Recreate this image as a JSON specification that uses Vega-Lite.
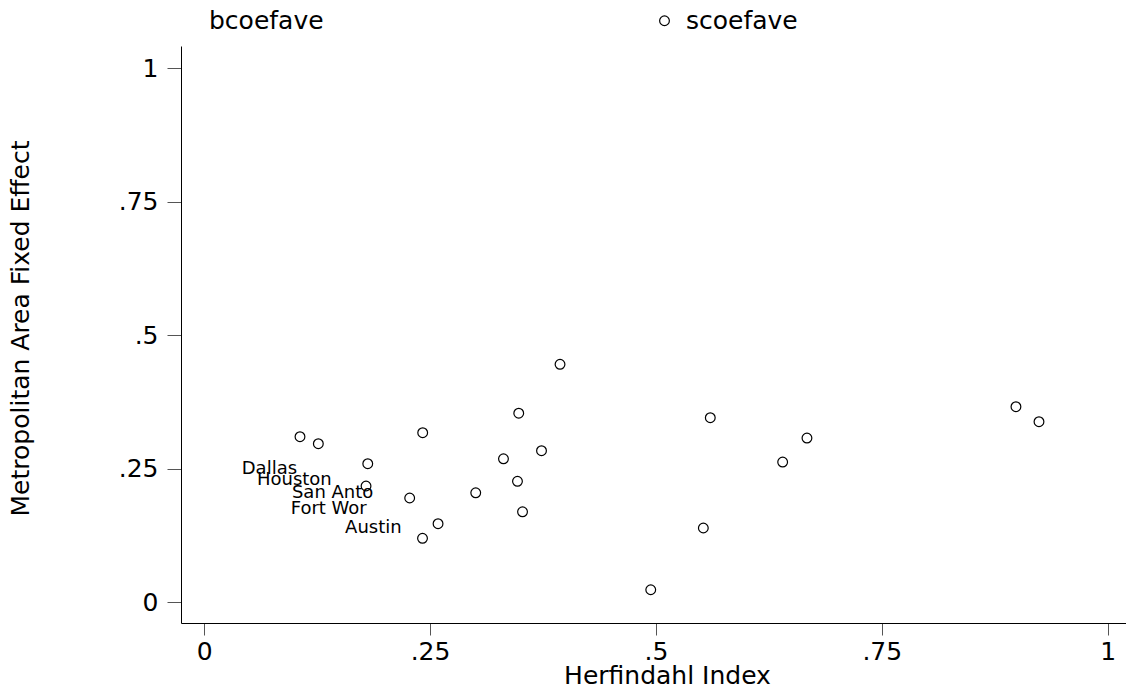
{
  "$schema": "https://vega.github.io/schema/vega-lite/v6.json",
  "width": 945,
  "height": 577,
  "autosize": {"type": "none"},
  "padding": {"left": 181, "top": 46, "right": 0, "bottom": 66},
  "background": "white",
  "config": {"view": {"stroke": null}, "font": "DejaVu Sans"},
  "data": {
    "values": [
      {"series": "scoefave", "city": "", "herf": 0.1061, "coef": 0.3097},
      {"series": "scoefave", "city": "", "herf": 0.1264, "coef": 0.2966},
      {"series": "scoefave", "city": "", "herf": 0.1811, "coef": 0.2591},
      {"series": "scoefave", "city": "", "herf": 0.1792, "coef": 0.2174},
      {"series": "scoefave", "city": "", "herf": 0.2275, "coef": 0.1949},
      {"series": "scoefave", "city": "", "herf": 0.2589, "coef": 0.1467},
      {"series": "scoefave", "city": "", "herf": 0.2417, "coef": 0.1194},
      {"series": "scoefave", "city": "", "herf": 0.2419, "coef": 0.3172},
      {"series": "scoefave", "city": "", "herf": 0.3006, "coef": 0.2046},
      {"series": "scoefave", "city": "", "herf": 0.3313, "coef": 0.2683},
      {"series": "scoefave", "city": "", "herf": 0.3468, "coef": 0.2262},
      {"series": "scoefave", "city": "", "herf": 0.3524, "coef": 0.1690},
      {"series": "scoefave", "city": "", "herf": 0.3482, "coef": 0.3538},
      {"series": "scoefave", "city": "", "herf": 0.3734, "coef": 0.2835},
      {"series": "scoefave", "city": "", "herf": 0.3939, "coef": 0.4454},
      {"series": "scoefave", "city": "", "herf": 0.4943, "coef": 0.0230},
      {"series": "scoefave", "city": "", "herf": 0.5525, "coef": 0.1387},
      {"series": "scoefave", "city": "", "herf": 0.5602, "coef": 0.3453},
      {"series": "scoefave", "city": "", "herf": 0.6403, "coef": 0.2623},
      {"series": "scoefave", "city": "", "herf": 0.6672, "coef": 0.3073},
      {"series": "scoefave", "city": "", "herf": 0.8985, "coef": 0.3659},
      {"series": "scoefave", "city": "", "herf": 0.9240, "coef": 0.3378},
      {"series": "bcoefave", "city": "Dallas", "herf": 0.1095, "coef": 0.2492},
      {"series": "bcoefave", "city": "Houston", "herf": 0.1479, "coef": 0.2286},
      {"series": "bcoefave", "city": "San Anto", "herf": 0.1939, "coef": 0.2048},
      {"series": "bcoefave", "city": "Fort Wor", "herf": 0.1866, "coef": 0.1737},
      {"series": "bcoefave", "city": "Austin", "herf": 0.2253, "coef": 0.1381}
    ]
  },
  "layer": [
    {
      "mark": {"type": "point", "shape": "circle", "filled": false, "strokeWidth": 1.2, "size": 95, "opacity": 1},
      "encoding": {
        "x": {
          "field": "herf", "type": "quantitative",
          "scale": {"domain": [-0.0256, 1.0203], "nice": false, "zero": false},
          "axis": {
            "values": [0, 0.25, 0.5, 0.75, 1],
            "labelExpr": "datum.value == 0 ? '0' : datum.value == 1 ? '1' : replace(toString(datum.value), '0.', '.')",
            "title": "Herfindahl Index",
            "grid": false,
            "domainColor": "black", "domainWidth": 1,
            "tickColor": "#555555", "tickSize": 12, "tickWidth": 1,
            "labelFont": "DejaVu Sans", "labelFontSize": 25, "labelColor": "black",
            "labelPadding": 4, "labelFlush": false, "labelOverlap": false,
            "titleFont": "DejaVu Sans", "titleFontSize": 25, "titleFontWeight": "normal", "titleColor": "black",
            "titleX": 486, "titleY": 60, "titleBaseline": "alphabetic"
          }
        },
        "y": {
          "field": "coef", "type": "quantitative",
          "scale": {"domain": [-0.0393, 1.0418], "nice": false, "zero": false},
          "axis": {
            "values": [0, 0.25, 0.5, 0.75, 1],
            "labelExpr": "datum.value == 0 ? '0' : datum.value == 1 ? '1' : replace(toString(datum.value), '0.', '.')",
            "title": "Metropolitan Area Fixed Effect",
            "grid": false,
            "domainColor": "black", "domainWidth": 1,
            "tickColor": "#555555", "tickSize": 14, "tickWidth": 1,
            "labelFont": "DejaVu Sans", "labelFontSize": 25, "labelColor": "black",
            "labelPadding": 9, "labelFlush": false, "labelOverlap": false,
            "titleFont": "DejaVu Sans", "titleFontSize": 25, "titleFontWeight": "normal", "titleColor": "black",
            "titleX": -148, "titleY": 282, "titleBaseline": "bottom"
          }
        },
        "color": {
          "field": "series", "type": "nominal",
          "scale": {"domain": ["bcoefave", "scoefave"], "range": ["rgba(0,0,0,0)", "black"]},
          "legend": {
            "title": null, "orient": "none", "legendX": -6, "legendY": -38,
            "direction": "horizontal", "symbolType": "circle", "symbolSize": 95,
            "symbolStrokeWidth": 1.2, "symbolFillColor": "white",
            "labelFont": "DejaVu Sans", "labelFontSize": 25, "labelColor": "black",
            "labelOffset": 9, "columnPadding": 328, "padding": 0
          }
        }
      }
    },
    {
      "transform": [{"filter": "datum.series == 'bcoefave'"}],
      "mark": {"type": "text", "align": "right", "baseline": "middle", "dx": -6, "fontSize": 18, "font": "DejaVu Sans", "color": "black"},
      "encoding": {
        "x": {"field": "herf", "type": "quantitative"},
        "y": {"field": "coef", "type": "quantitative"},
        "text": {"field": "city"}
      }
    }
  ]
}
